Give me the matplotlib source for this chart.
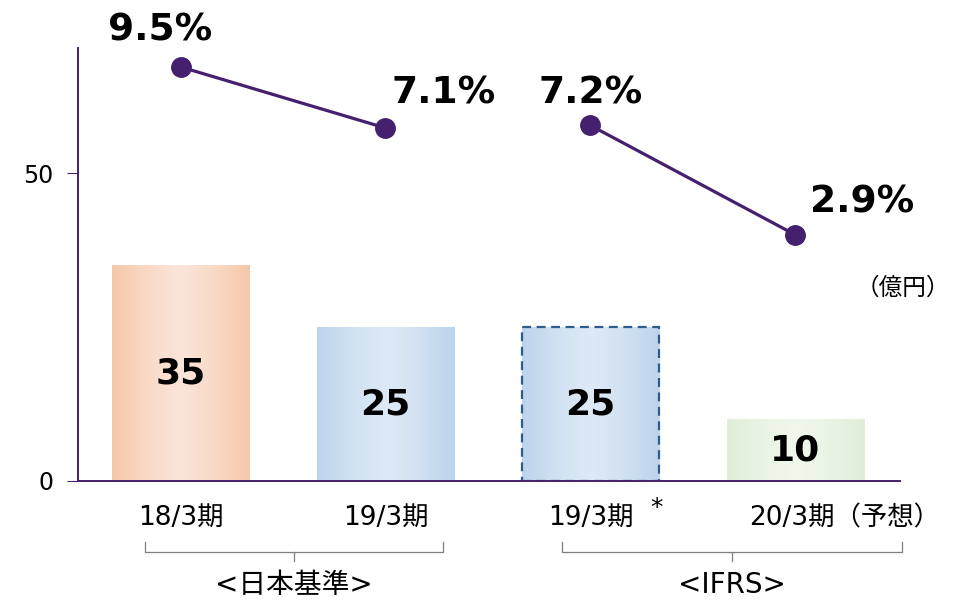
import numpy as np
import matplotlib.pyplot as plt
from matplotlib.colors import to_rgb

plt.rcParams['font.family'] = ['DejaVu Sans', 'Noto Sans CJK JP']

# data
categories = ['18/3期', '19/3期', '19/3期', '20/3期（予想）']
sales = [35, 25, 25, 10]
margin = [9.5, 7.1, 7.2, 2.9]
margin_labels = ['9.5%', '7.1%', '7.2%', '2.9%']
groups = ['<日本基準>', '<IFRS>']

edge_cols = ['#F5C8AA', '#BCD4EC', '#BCD4EC', '#E0EED8']
mid_cols = ['#FBE4D8', '#DDE9F5', '#DDE9F5', '#F0F7EC']
purple = '#44206E'

fig = plt.figure(figsize=(9.55, 6.01), dpi=100)
ax = fig.add_axes([0.0817, 0.1997, 0.8607, 0.7203])

x = np.arange(len(categories))
width = 0.67
bars = ax.bar(x, sales, width=width, color='none', zorder=3)

# horizontal gradient fill for each bar
t = np.linspace(0, 1, 200)
prof = 1 - np.abs(2 * t - 1) ** 1.3
for i, b in enumerate(bars):
    c0 = np.array(to_rgb(edge_cols[i]))
    c1 = np.array(to_rgb(mid_cols[i]))
    grad = c0[None, :] + prof[:, None] * (c1 - c0)[None, :]
    ax.imshow(grad[None, :, :], extent=(b.get_x(), b.get_x() + width, 0, sales[i]),
              aspect='auto', zorder=2, interpolation='bilinear')
    ax.text(x[i], sales[i] / 2, str(sales[i]),
            ha='center', va='center', fontsize=26, fontweight='bold', zorder=4)

# dashed outline on the IFRS restated bar
bars[2].set_edgecolor('#2E5C8C')
bars[2].set_linestyle((0, (4, 2.5)))
bars[2].set_linewidth(1.6)

ax.set_xlim(-0.5, 3.51)
ax.set_ylim(0, 70.3)
ax.set_yticks([0, 50])
ax.set_xticks([])
ax.tick_params(axis='y', length=8, color=purple, labelsize=17, pad=10)
for s in ['top', 'right']:
    ax.spines[s].set_visible(False)
for s in ['left', 'bottom']:
    ax.spines[s].set_color(purple)
    ax.spines[s].set_linewidth(1.4)
ax.spines['bottom'].set_zorder(5)

# line on secondary axis
ax2 = ax.twinx()
ax2.set_ylim(-6.77, 10.24)
ax2.axis('off')
ax2.plot(x[:2], margin[:2], color=purple, lw=2.3, marker='o', ms=14, zorder=5)
ax2.plot(x[2:], margin[2:], color=purple, lw=2.3, marker='o', ms=14, zorder=5)
offsets = [(-15, 26), (42, 25), (0, 23), (48, 23)]
for i in range(len(margin)):
    ax2.annotate(margin_labels[i], (x[i], margin[i]), xytext=offsets[i],
                 textcoords='offset points', ha='center', va='center',
                 fontsize=27, fontweight='bold', annotation_clip=False)

lab_font = ['DejaVu Sans', 'Noto Sans CJK JP']
trans = ax.get_xaxis_transform()

def ay(px):
    # convert image pixel row to axes fraction
    return (481 - px) / 433

for i, lab in enumerate(categories[:3]):
    ax.text(x[i], ay(518), lab, transform=trans, ha='center', va='center',
            fontsize=19, family=lab_font)
ax.text(x[2] + 0.32, ay(508), '*', transform=trans, ha='center', va='center',
        fontsize=18, family=lab_font)
ax.text(3.24, ay(518), categories[3], transform=trans, ha='center', va='center',
        fontsize=19, family=lab_font)

# group brackets
for (xl, xr), g in zip([(-0.175, 1.28), (1.86, 3.52)], groups):
    xm = (xl + xr) / 2
    ax.plot([xl, xl, xr, xr], [ay(542), ay(552), ay(552), ay(542)], transform=trans,
            color='#7F7F7F', lw=0.9, clip_on=False)
    ax.plot([xm, xm], [ay(552), ay(561)], transform=trans, color='#7F7F7F', lw=0.9,
            clip_on=False)
    ax.text(xm, ay(585), g, transform=trans, ha='center', va='center', fontsize=20,
            family=lab_font)

fig.text(903 / 955, (601 - 288) / 601, '（億円）', ha='center', va='center', fontsize=17,
         family=['Noto Sans CJK JP', 'DejaVu Sans'])

fig.savefig('out.png', dpi=100)
